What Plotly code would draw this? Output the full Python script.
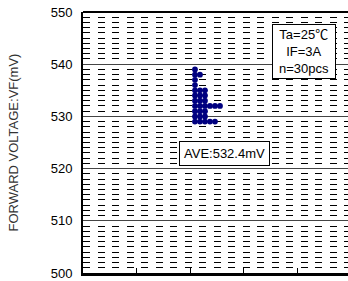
import plotly.graph_objects as go

# Forward voltage distribution (mV) -> number of pieces at each level
vf_levels = [539, 538, 537, 536, 535, 534, 533, 532, 531, 530, 529]
vf_counts = [1, 2, 1, 1, 3, 3, 3, 6, 3, 3, 5]
y_ticks = [500, 510, 520, 530, 540, 550]
cond_text = "Ta=25℃<br>IF=3A<br>n=30pcs"
ave_text = "AVE:532.4mV"
y_title = "FORWARD VOLTAGE:VF(mV)"

col_x0 = 2.093
col_step = 0.0935

xs, ys = [], []
for v, c in zip(vf_levels, vf_counts):
    for k in range(c):
        xs.append(col_x0 + k * col_step)
        ys.append(v)

FONT = "Liberation Sans, Arial, Noto Sans CJK JP, sans-serif"

fig = go.Figure()
fig.add_trace(go.Scatter(
    x=xs, y=ys, mode="markers",
    marker=dict(size=5.8, color="#000080", line=dict(width=0)),
    showlegend=False, hoverinfo="skip"))

fig.update_layout(
    width=348, height=281,
    margin=dict(l=83, r=0, t=12, b=4),
    paper_bgcolor="white", plot_bgcolor="white",
    font=dict(family=FONT, size=13, color="black"),
    xaxis=dict(range=[0, 265 / 53.5], tickvals=[1, 2, 3, 4], ticks="inside",
               ticklen=5, tickwidth=1, tickcolor="black", showticklabels=False,
               showgrid=False, zeroline=False, showline=True, linecolor="black",
               linewidth=3),
    yaxis=dict(range=[500, 550], tickvals=y_ticks, ticks="", showline=True,
               linecolor="black", linewidth=2, zeroline=False,
               showgrid=True, gridcolor="#444444", gridwidth=1,
               minor=dict(dtick=1, showgrid=True, gridcolor="black",
                          griddash="7px,7.5px", gridwidth=1),
               tickfont=dict(size=13, color="black"), ticklabelstandoff=6,
               ticklabeloverflow="allow"),
    shapes=[dict(type="line", xref="paper", yref="paper", x0=0, x1=1, y0=1, y1=1,
                 line=dict(color="black", width=2))],
    annotations=[
        dict(x=-70 / 265, y=0.5, xref="paper", yref="paper", text=y_title,
             textangle=-90, showarrow=False, xanchor="center", yanchor="middle",
             font=dict(size=13, color="#333333")),
        dict(x=4.13, y=542.36, xref="x", yref="y", text=cond_text, showarrow=False,
             font=dict(size=13, color="black"), bgcolor="white",
             bordercolor="black", borderwidth=1, borderpad=2, width=58, align="center"),
        dict(x=2.636, y=522.83, xref="x", yref="y", text=ave_text, showarrow=False,
             font=dict(size=13, color="black"), bgcolor="white",
             bordercolor="black", borderwidth=1, borderpad=4, align="center"),
    ],
)

fig.write_html(
    "out.html",
    config={"displayModeBar": False},
    post_script="document.body.style.margin='0';document.body.style.overflow='hidden';",
)
